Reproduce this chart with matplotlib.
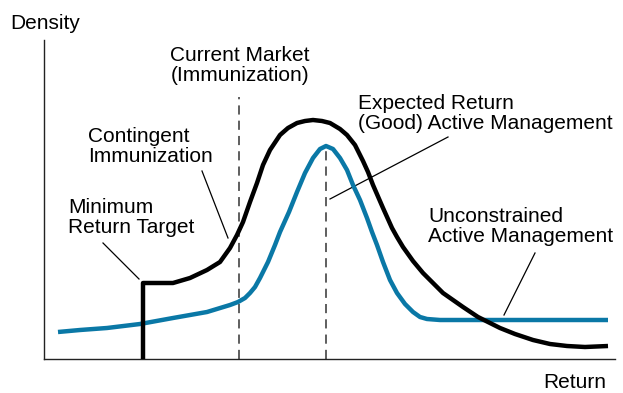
import matplotlib.pyplot as plt

plt.rcParams['font.family'] = ['Liberation Sans', 'DejaVu Sans']

# axes box in pixels of the 623x393 picture
W, H = 623, 393
x0, x1, yb, yt = 44, 615, 359, 40

# curves (pixel x, pixel y)
black_x = [143, 143, 160, 173, 190, 207, 220, 230, 237, 243, 250, 257, 263, 270, 280,
           288, 297, 305, 313, 322, 330, 340, 347, 355, 363, 368, 373, 383, 392, 397,
           403, 413, 423, 433, 443, 453, 463, 478, 490, 500, 515, 533, 550, 567, 585,
           608]
black_y = [359, 283, 283, 283, 278, 270, 262, 248, 235, 222, 202, 183, 165, 150, 135,
           128, 123, 121, 120, 121, 123, 129, 135, 145, 161, 172, 185, 208, 228, 237,
           247, 261, 273, 283, 293, 300, 307, 317, 323, 328, 334, 340, 344, 346, 347,
           346]
blue_x = [58, 80, 107, 140, 173, 207, 230, 238, 245, 250, 255, 260, 268, 275, 280,
          289, 297, 305, 313, 320, 326, 333, 340, 347, 353, 360, 367, 372, 377, 383,
          390, 397, 405, 413, 420, 427, 440, 480, 530, 608]
blue_y = [332, 330, 328, 324, 318, 312, 305, 302, 298, 293, 287, 278, 262, 245, 232,
          212, 192, 173, 158, 149, 146, 149, 158, 170, 185, 200, 218, 232, 245, 262,
          280, 293, 304, 312, 317, 319, 320, 320, 320, 320]

# dashed markers: (x, top y)
dashes = [(239, 97), (326, 147)]

# labels: text, left/center x, cap-top y, ha
labels = [
    ("Current Market\n(Immunization)", 240, 47, 'center'),
    ("Expected Return\n(Good) Active Management", 358, 95, 'left'),
    ("Contingent\nImmunization", 88, 128, 'left'),
    ("Minimum\nReturn Target", 68, 199, 'left'),
    ("Unconstrained\nActive Management", 428, 208, 'left'),
]
# pointer lines (x1, y1, x2, y2)
pointers = [
    (448, 137, 330, 199),
    (202, 171, 228, 238),
    (103, 243, 139, 279),
    (535, 253, 504, 315),
]


def dx(px):
    return px - x0


def dy(py):
    return yb - py


fig = plt.figure(figsize=(W / 100, H / 100), dpi=100)
ax = fig.add_axes([x0 / W, (H - yb) / H, (x1 - x0) / W, (yb - yt) / H])
ax.set_xlim(0, x1 - x0)
ax.set_ylim(0, yb - yt)
for s in ['top', 'right']:
    ax.spines[s].set_visible(False)
for s in ['left', 'bottom']:
    ax.spines[s].set_linewidth(1.0)
    ax.spines[s].set_color('#222222')
ax.set_xticks([])
ax.set_yticks([])

for x, top in dashes:
    ax.plot([dx(x), dx(x)], [0, dy(top)], color='#333333', lw=1.1,
            dashes=(6, 4), zorder=1)

ax.plot([dx(v) for v in blue_x], [dy(v) for v in blue_y], color='#0a78a6',
        lw=3.2, solid_joinstyle='round', solid_capstyle='butt', zorder=3)
ax.plot([dx(v) for v in black_x], [dy(v) for v in black_y], color='black',
        lw=3.2, solid_joinstyle='round', solid_capstyle='butt', zorder=4,
        clip_on=False)

for xa, ya, xb, yb2 in pointers:
    ax.plot([dx(xa), dx(xb)], [dy(ya), dy(yb2)], color='black', lw=0.9,
            zorder=2)

fs = 15
for txt, x, y, ha in labels:
    ax.text(dx(x), dy(y - 1), txt, ha=ha, va='top', fontsize=fs,
            linespacing=1.05)

ax.text(dx(10), dy(14), "Density", ha='left', va='top', fontsize=fs)
ax.text(dx(606), dy(388), "Return", ha='right', va='baseline', fontsize=fs)

fig.savefig('out.png', dpi=100)
